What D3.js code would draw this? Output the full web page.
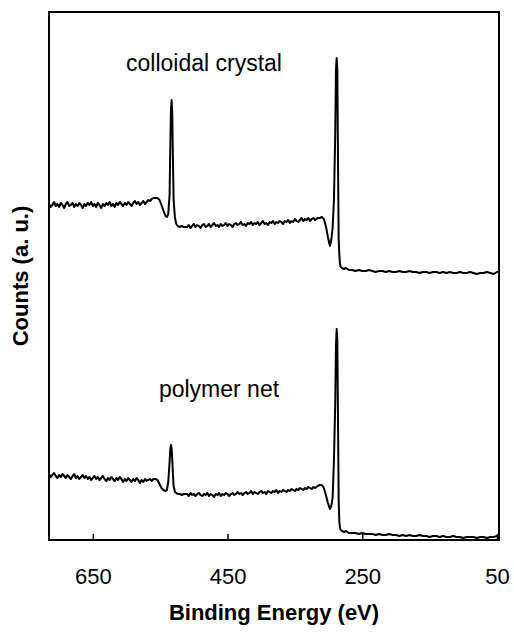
<!DOCTYPE html>
<html><head><meta charset="utf-8">
<script src="https://cdn.jsdelivr.net/npm/d3@7"></script>
<style>body{margin:0;background:#fff;} svg{display:block;font-family:Arial,"Liberation Sans",sans-serif;}</style>
</head><body><svg id="chart" width="514" height="635"></svg>
<script>
const energy = [
  715,712.5,710,707.5,705,702.5,700,697.5,695,692.5, 690,687.5,685,682.5,680,677.5,675,672.5,670,667.5,
  665,662.5,660,657.5,655,652.5,650,647.5,645,642.5, 640,637.5,635,632.5,630,627.5,625,622.5,620,617.5,
  615,612.5,610,607.5,605,602.5,600,597.5,595,592.5, 590,587.5,585,582.5,580,577.5,575,572.5,570,567.5,
  565,562.5,560,
  557,554,551,548,545,542,540,538,536,535,534,533,532,531,530,528,526,524,521,518,515,
  510,507.5,505,502.5,500,497.5,495,492.5,490,487.5, 485,482.5,480,477.5,475,472.5,470,467.5,465,462.5,
  460,457.5,455,452.5,450,447.5,445,442.5,440,437.5, 435,432.5,430,427.5,425,422.5,420,417.5,415,412.5,
  410,407.5,405,402.5,400,397.5,395,392.5,390,387.5, 385,382.5,380,377.5,375,372.5,370,367.5,365,362.5,
  360,357.5,355,352.5,350,347.5,345,342.5,340,337.5, 335,332.5,330,327.5,325,322.5,320,
  316,313,310,307,304,301,298,296,294,292,290,289,288,287,286,285,284,283,282,280,277,274,270,
  265,260,255,250,245,240,235,230,225,220,215,210,205,200,195,190,185,180,175,170,165,160,155,150,145,140,135,130,125,120,115,110,105,100,95,90,85,80,75,70,65,60,55,50,47
];
const colloidalCrystal = [
  336,333,335,338,334,336,333,337,335,332, 336,338,334,335,337,333,336,334,337,335,
  332,336,334,337,335,338,334,336,333,337, 335,332,336,334,337,335,338,334,336,333,
  337,335,338,336,334,337,335,338,336,334, 337,339,336,338,335,337,339,336,338,340,
  339,341,342,
  342,342,340,335,329,324,323,326,345,390,430,440,425,380,340,322,316,314,313,314,313,
  313,315,312,314,316,313,315,314,312,315, 316,313,314,316,313,315,317,314,315,313,
  316,314,315,317,314,316,315,313,316,317, 315,316,318,315,316,314,317,316,318,315,
  317,316,318,315,317,319,316,317,315,318, 317,319,316,318,317,319,318,316,319,318,
  320,317,319,318,321,319,318,320,322,319, 321,320,322,319,321,322,320,
  322,322,323,321,314,303,294,300,312,340,410,470,482,470,380,300,285,276,273,272,271,272,270,
  270,269,270,269,269,270,269,268,269,269,268,269,268,268,269,268,268,269,268,268,267,268,268,267,268,268,267,268,267,268,267,267,268,267,267,268,267,266,267,267,268,267,266,268,268
];
const polymerNet = [
  66,63,65,67,64,62,65,63,66,64, 62,65,63,61,64,66,62,64,61,63,
  65,62,64,61,63,60,62,64,61,63, 60,62,64,61,59,62,60,63,61,59,
  62,60,63,61,58,61,59,62,60,58, 61,59,62,60,57,60,58,61,59,60,
  61,59,61,
  61,60,56,52,50,49,50,58,78,90,95,92,80,65,54,48,47,46,46,45,46,
  46,44,47,45,46,44,46,47,45,44, 46,45,47,44,46,45,43,46,45,47,
  44,46,45,47,46,44,46,47,45,46, 48,46,47,45,47,48,46,47,49,46,
  48,47,46,48,49,47,48,46,49,48, 47,49,48,50,47,49,48,50,49,48,
  50,49,51,50,49,51,50,52,51,50, 52,51,53,52,51,53,52,
  54,55,55,52,45,37,31,34,42,80,140,195,211,200,120,40,18,12,10,9,8,9,7,
  7,7,6,7,6,6,6,5,6,5,5,6,5,5,4,5,4,5,4,4,5,4,4,3,4,4,3,4,3,3,4,3,3,2,3,3,3,2,3,3,2,3,3,4,4
];
const xTicks = [650, 450, 250, 50];
const seriesLabels = ["colloidal crystal", "polymer net"];
const xTitle = "Binding Energy (eV)";
const yTitle = "Counts (a. u.)";

const svg = d3.select("#chart");
const L = 49, R = 499, T = 12, B = 540;
const x = d3.scaleLinear().domain([715, 47]).range([L, R]);
const y = d3.scaleLinear().domain([0, 528]).range([B, T]);

const line = d3.line().x((d, i) => x(energy[i])).y(d => y(d)).curve(d3.curveLinear);

[colloidalCrystal, polymerNet].forEach(s => {
  svg.append("path").datum(s).attr("d", line)
    .attr("fill", "none").attr("stroke", "#000").attr("stroke-width", 2)
    .attr("stroke-linejoin", "round");
});

const ax = svg.append("g").attr("transform", `translate(0,${B})`)
  .call(d3.axisBottom(x).tickValues(xTicks).tickSize(-6).tickPadding(28).tickFormat(d3.format("d")));
ax.select(".domain").remove();
ax.selectAll(".tick line").attr("stroke", "#000").attr("stroke-width", 1.5);
ax.selectAll(".tick text").attr("font-size", 22).attr("font-family", "Arial, 'Liberation Sans', sans-serif").attr("fill", "#000");

svg.append("rect").attr("x", L).attr("y", T).attr("width", R - L).attr("height", B - T)
  .attr("fill", "none").attr("stroke", "#000").attr("stroke-width", 2);

svg.append("text").attr("x", 204).attr("y", 71).attr("text-anchor", "middle")
  .attr("font-size", 23).text(seriesLabels[0]);
svg.append("text").attr("x", 219).attr("y", 397).attr("text-anchor", "middle")
  .attr("font-size", 23).text(seriesLabels[1]);

svg.append("text").attr("x", (L + R) / 2).attr("y", 620).attr("text-anchor", "middle")
  .attr("font-size", 22).attr("font-weight", "bold").text(xTitle);
svg.append("text").attr("transform", `translate(28,${(T + B) / 2}) rotate(-90)`)
  .attr("text-anchor", "middle").attr("font-size", 22).attr("font-weight", "bold").text(yTitle);
</script></body></html>
